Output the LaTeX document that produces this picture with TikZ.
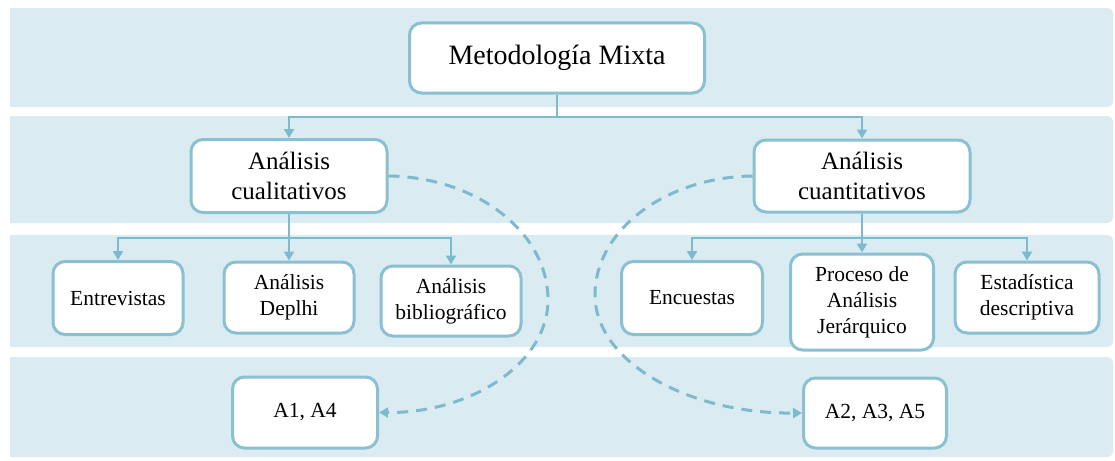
\documentclass[tikz,border=0pt]{standalone}
\usepackage{fontspec}
\setmainfont{Liberation Serif}
\usetikzlibrary{arrows.meta}
\definecolor{bandfill}{RGB}{218,236,242}
\definecolor{boxline}{RGB}{138,192,210}
\definecolor{linkcol}{RGB}{125,186,206}
\tikzset{
  band/.style={fill=bandfill, draw=none},
  box/.style={draw=boxline, fill=white, line width=3pt, rounded corners=12pt,
    align=center, inner sep=0pt},
  topbox/.style={box, font=\fontsize{28}{32}\selectfont},
  midbox/.style={box, font=\fontsize{25}{30}\selectfont},
  leafbox/.style={box, font=\fontsize{21.5}{26}\selectfont},
  link/.style={draw=linkcol, line width=2.5pt},
  linkarrow/.style={link, -{Triangle[length=9pt,width=10pt]}},
  dasharrow/.style={draw=linkcol, line width=3pt, dash pattern=on 11pt off 8pt,
    -{Triangle[length=9pt,width=10pt]}}
}
\begin{document}
\begin{tikzpicture}[x=1pt,y=-1pt]
\useasboundingbox (0,0) rectangle (1115,460);

% horizontal background bands
\foreach \ya/\yb in {8/107, 116/223, 235/347, 357/457}{
  \fill[band] (10,\ya) [rounded corners=6pt] -- (1113,\ya) -- (1113,\yb)
    [sharp corners] -- (10,\yb) -- cycle;
}

% nodes
\node[topbox, minimum width=295pt, minimum height=70pt] (mm) at (557,58) {Metodología Mixta};

\node[midbox, minimum width=196pt, minimum height=73pt] (cual) at (289,176) {Análisis\\cualitativos};
\node[midbox, minimum width=216pt, minimum height=72pt] (cuan) at (862,176) {Análisis\\cuantitativos};

\node[leafbox, minimum width=130pt, minimum height=73pt] (ent) at (118,298) {Entrevistas};
\node[leafbox, minimum width=130pt, minimum height=71pt] (del) at (289,297.5) {Análisis\\Deplhi};
\node[leafbox, minimum width=140pt, minimum height=70pt] (bib) at (451,301) {Análisis\\bibliográfico};

\node[leafbox, minimum width=141pt, minimum height=73pt] (enc) at (692,298) {Encuestas};
\node[leafbox, minimum width=143pt, minimum height=96pt] (pah) at (862,302) {Proceso de\\Análisis\\Jerárquico};
\node[leafbox, minimum width=144pt, minimum height=71pt] (est) at (1027,297.5) {Estadística\\descriptiva};

\node[leafbox, minimum width=145pt, minimum height=71pt] (a14) at (305,412.5) {A1, A4};
\node[leafbox, minimum width=143pt, minimum height=70pt] (a235) at (875,413) {A2, A3, A5};

% junction points of the tree connectors
\coordinate (j0) at (557,117);
\coordinate (j1) at (289,238);
\coordinate (j2) at (862,238);

% tree connectors
\draw[link] (mm.south) -- (j0);
\draw[linkarrow] (j0) -| (cual.north);
\draw[linkarrow] (j0) -| (cuan.north);

\draw[linkarrow] (cual.south) -- (del.north);
\draw[linkarrow] (j1) -| (ent.north);
\draw[linkarrow] (j1) -| (bib.north);

\draw[linkarrow] (cuan.south) -- (pah.north);
\draw[linkarrow] (j2) -| (enc.north);
\draw[linkarrow] (j2) -| (est.north);

% dashed curved links to the article groups
\draw[dasharrow] (cual.east) .. controls (476,177) and (548,232) .. (548,300)
  .. controls (548,362) and (473,413) .. (a14.east);
\draw[dasharrow] (cuan.west) .. controls (666,177) and (595,230) .. (595,295)
  .. controls (595,361) and (687,414) .. (a235.west);
\end{tikzpicture}
\end{document}
